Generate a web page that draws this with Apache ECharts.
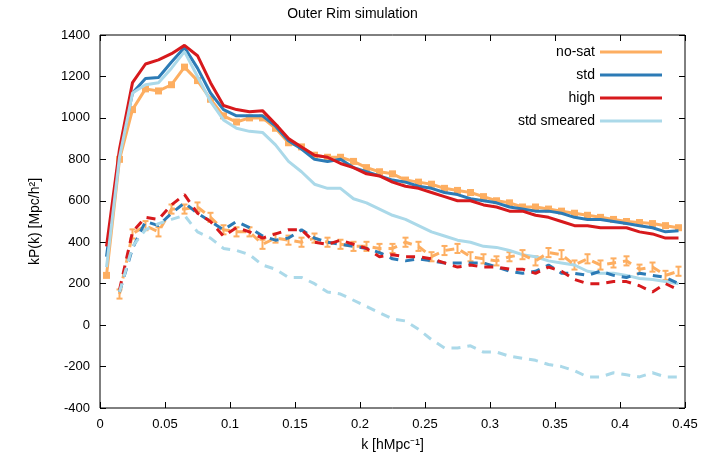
<!DOCTYPE html>
<html><head><meta charset="utf-8">
<script src="https://cdn.jsdelivr.net/npm/echarts@6/dist/echarts.min.js"></script>
<style>html,body{margin:0;padding:0;background:#fff}#c{width:705px;height:466px}</style>
</head><body><div id="c"></div>
<script>
var kVals = [];
for (var i = 0; i < 45; i++) kVals.push(+(0.005 + 0.01 * i).toFixed(3));

var noSat = [240,800,1040,1140,1130,1160,1245,1180,1090,1010,980,1000,1000,950,880,860,820,810,810,790,760,740,730,700,690,680,660,650,640,620,600,590,570,570,560,550,540,530,520,510,500,495,490,480,470];
var stdP = [330,830,1120,1190,1195,1270,1340,1240,1120,1040,1010,1010,1010,960,890,850,800,790,800,760,740,720,700,690,670,660,640,630,610,600,590,570,560,550,550,540,520,510,510,500,490,480,470,450,455];
var highP = [380,850,1170,1260,1280,1310,1350,1300,1170,1060,1040,1030,1035,970,900,860,820,810,780,760,730,720,690,670,660,640,620,600,600,580,570,550,550,530,520,500,480,480,470,470,470,450,440,420,420];
var smearP = [280,810,1120,1160,1170,1240,1320,1200,1080,990,950,935,930,870,790,740,680,660,660,610,590,560,530,510,480,450,430,410,400,380,375,360,340,330,310,300,290,260,250,250,240,225,220,210,200];

// dashed curves start at k=0.015
var noSatD = [150,440,480,450,560,560,570,520,460,450,450,390,420,410,400,420,400,390,380,380,370,370,400,380,330,360,370,330,320,310,330,340,310,350,340,290,320,290,300,310,270,280,240,260];
var noSatDErr = 22;
var stdD = [160,370,500,480,540,590,540,500,460,500,470,430,410,420,460,420,400,390,380,370,350,320,310,320,310,300,300,300,300,280,260,250,260,290,250,250,240,260,240,230,250,240,230,200];
var highD = [170,450,520,510,580,630,540,500,430,470,450,420,440,460,460,400,390,410,390,370,330,340,330,330,320,300,280,290,280,280,270,270,250,280,260,220,200,200,210,210,190,160,200,170];
var smearD = [160,380,460,490,510,530,450,420,370,360,340,290,270,230,230,200,160,150,120,90,60,30,20,-20,-70,-110,-110,-100,-130,-130,-150,-160,-170,-190,-200,-220,-250,-250,-230,-240,-250,-230,-250,-250];

var cOr = '#fdae61', cStd = '#2c7bb6', cHigh = '#d7191c', cSm = '#abd9e9';

function pairs(ys, off) {
    return ys.map(function (y, i) { return [kVals[i + off], y]; });
}

var font = 'Liberation Sans';
var chart = echarts.init(document.getElementById('c'));

function line(name, ys, off, color, dashed, sym) {
    return {
        name: name, type: 'line', data: pairs(ys, off), color: color,
        showSymbol: !!sym, symbol: sym ? 'rect' : 'none', symbolSize: 7,
        lineStyle: { width: 3, color: color, type: dashed ? [9, 7] : 'solid' },
        itemStyle: { color: color }, animation: false, z: sym ? 2 : 3,
        legendHoverLink: false
    };
}

var errData = noSatD.map(function (y, i) { return [kVals[i + 1], y - noSatDErr, y + noSatDErr]; });

var tick = { inside: true, length: 6, lineStyle: { color: '#000' } };

chart.setOption({
    animation: false,
    title: { text: 'Outer Rim simulation', left: 'center', top: 2,
        textStyle: { fontFamily: font, fontSize: 14, fontWeight: 'normal', color: '#000' } },
    grid: { left: 100, right: 20, top: 35, bottom: 58, show: true, borderColor: '#000', borderWidth: 1 },
    legend: {
        data: ['no-sat', 'std', 'high', 'std smeared'], orient: 'vertical', right: 38, top: 40,
        align: 'right', icon: 'rect', itemWidth: 62, itemHeight: 3, itemGap: 9,
        textStyle: { fontFamily: font, fontSize: 14, color: '#000' }
    },
    xAxis: [{
        type: 'value', min: 0, max: 0.45, interval: 0.05,
        name: 'k [hMpc⁻¹]', nameLocation: 'middle', nameGap: 30,
        nameTextStyle: { fontFamily: font, fontSize: 14, color: '#000' },
        axisLine: { show: false, onZero: false }, splitLine: { show: false },
        axisTick: tick,
        axisLabel: { fontFamily: font, fontSize: 13, color: '#000', margin: 10 }
    }, {
        type: 'value', position: 'top', min: 0, max: 0.45, interval: 0.05,
        axisLine: { show: false, onZero: false }, splitLine: { show: false }, axisLabel: { show: false },
        axisTick: tick
    }],
    yAxis: [{
        type: 'value', min: -400, max: 1400, interval: 200,
        name: 'kP(k) [Mpc/h²]', nameLocation: 'middle', nameGap: 58,
        nameTextStyle: { fontFamily: font, fontSize: 14, color: '#000' },
        axisLine: { show: false, onZero: false }, splitLine: { show: false },
        axisTick: tick,
        axisLabel: { fontFamily: font, fontSize: 13, color: '#000', margin: 10,
            formatter: function (v) { return String(v); } }
    }, {
        type: 'value', position: 'right', min: -400, max: 1400, interval: 200,
        axisLine: { show: false, onZero: false }, splitLine: { show: false }, axisLabel: { show: false },
        axisTick: tick
    }],
    series: [
        line('no-sat', noSat, 0, cOr, false, true),
        line('std', stdP, 0, cStd, false),
        line('high', highP, 0, cHigh, false),
        line('std smeared', smearP, 0, cSm, false),
        line('no-sat', noSatD, 1, cOr, true, false),
        line('std', stdD, 1, cStd, true),
        line('high', highD, 1, cHigh, true),
        line('std smeared', smearD, 1, cSm, true),
        {
            name: 'no-sat', type: 'custom', data: errData, animation: false, z: 2,
            renderItem: function (params, api) {
                var lo = api.coord([api.value(0), api.value(1)]);
                var hi = api.coord([api.value(0), api.value(2)]);
                var w = 3;
                var st = { stroke: cOr, lineWidth: 2 };
                return { type: 'group', children: [
                    { type: 'line', shape: { x1: lo[0], y1: lo[1], x2: hi[0], y2: hi[1] }, style: st },
                    { type: 'line', shape: { x1: lo[0] - w, y1: lo[1], x2: lo[0] + w, y2: lo[1] }, style: st },
                    { type: 'line', shape: { x1: hi[0] - w, y1: hi[1], x2: hi[0] + w, y2: hi[1] }, style: st }
                ] };
            }
        }
    ]
});
</script></body></html>
